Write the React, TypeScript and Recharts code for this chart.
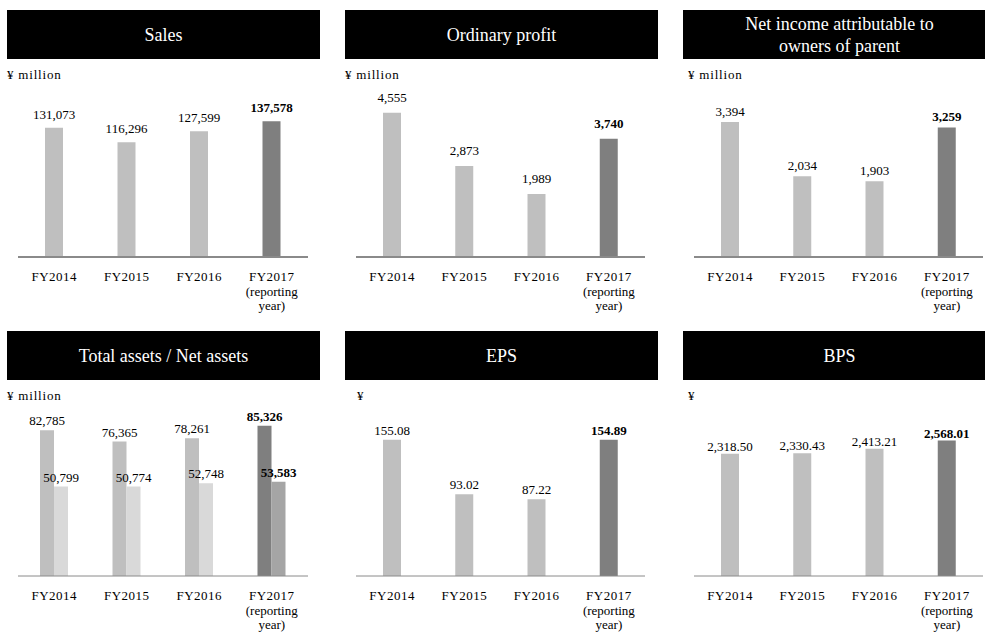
import React from "react";
import { BarChart, Bar, XAxis, YAxis, LabelList, Cell } from "recharts";

// fiscal years and the extra lines under the reporting year
const years = ["FY2014", "FY2015", "FY2016", "FY2017"];
const yearSubLines = [[], [], [], ["(reporting", "year)"]];

// values (labels are printed on the chart)
const sales = [131073, 116296, 127599, 137578];
const ordinaryProfit = [4555, 2873, 1989, 3740];
const netIncome = [3394, 2034, 1903, 3259];
const totalAssets = [82785, 76365, 78261, 85326];
const netAssets = [50799, 50774, 52748, 53583];
const eps = [155.08, 93.02, 87.22, 154.89];
const bps = [2318.5, 2330.43, 2413.21, 2568.01];

const FONT = '"Liberation Serif", "Times New Roman", serif';
const LIGHT = "#bfbfbf";
const DARK = "#7f7f7f";
const NET_LIGHT = "#d9d9d9";
const NET_DARK = "#a5a5a5";

const PLOT_H = 157;
const AXIS_H = 60;
const TOP_PAD = 30;

const fmt = (v: number, digits: number) =>
  v.toLocaleString("en-US", { minimumFractionDigits: digits, maximumFractionDigits: digits });

const makeLabel = (values: number[], digits: number, offset: number) => (props: any) => {
  const vb = props.viewBox || props;
  const x = Number(vb.x) + Number(vb.width) / 2;
  const y = Number(vb.y) - offset;
  const idx = props.index ?? values.indexOf(props.value);
  const bold = idx === values.length - 1;
  return (
    <text x={x} y={y} textAnchor="middle" fontFamily={FONT} fontSize={13}
      fontWeight={bold ? 700 : 400} fill="#000">
      {fmt(Number(props.value), digits)}
    </text>
  );
};

const YearTick = (props: any) => {
  const { x, y, payload } = props;
  const i = years.indexOf(payload.value);
  const lines = [payload.value, ...(yearSubLines[i] || [])];
  return (
    <text x={x} y={y} textAnchor="middle" fontFamily={FONT} fontSize={13} fill="#000">
      {lines.map((l, k) => (
        <tspan key={k} x={x} dy={k === 0 ? 24 : 14.5} letterSpacing={k === 0 ? 0.5 : 0}>{l}</tspan>
      ))}
    </text>
  );
};

type Series = { key: string; values: number[]; light: string; dark: string; digits: number };

function Panel(props: {
  left: number; top: number; title: string[]; unit: string; unitLeft: number;
  plotLeft: number; plotWidth: number; plotTop: number; max: number;
  series: Series[]; barSize: number; labelOffset: number; axisStroke: number;
}) {
  const { left, top, title, unit, unitLeft, plotLeft, plotWidth, plotTop, max, series, barSize, labelOffset, axisStroke } = props;
  const rows = years.map((y, i) => {
    const r: Record<string, any> = { year: y };
    series.forEach((s) => (r[s.key] = s.values[i]));
    return r;
  });
  return (
    <>
      <div style={{
        position: "absolute", left, top, width: 313, height: 49, background: "#000", color: "#fff",
        fontFamily: FONT, fontSize: 18, lineHeight: "22px", display: "flex", flexDirection: "column",
        alignItems: "center", justifyContent: "center", textAlign: "center",
      }}>
        {title.map((t, i) => <div key={i}>{t}</div>)}
      </div>
      <div style={{
        position: "absolute", left: unitLeft, top: top + 57, fontFamily: FONT, fontSize: 13,
        lineHeight: "16px", letterSpacing: 0.8, color: "#000", whiteSpace: "nowrap",
      }}>{unit}</div>
      <div style={{ position: "absolute", left: plotLeft - 20, top: plotTop - TOP_PAD }}>
        <BarChart width={plotWidth + 40} height={TOP_PAD + PLOT_H + AXIS_H} data={rows}
          margin={{ top: TOP_PAD, right: 20, left: 20, bottom: 0 }} barGap={0}>
          <XAxis dataKey="year" height={AXIS_H} tickLine={false} tickSize={0} tickMargin={0}
            axisLine={{ stroke: "#8a8a8a", strokeWidth: axisStroke }} tick={<YearTick />} interval={0} />
          <YAxis hide domain={[0, max]} allowDataOverflow type="number" />
          {series.map((s) => (
            <Bar key={s.key} dataKey={s.key} barSize={barSize} isAnimationActive={false}>
              {rows.map((_, i) => (
                <Cell key={i} fill={i === rows.length - 1 ? s.dark : s.light} />
              ))}
              <LabelList dataKey={s.key} content={makeLabel(s.values, s.digits, labelOffset)} />
            </Bar>
          ))}
        </BarChart>
      </div>
    </>
  );
}

export default function App() {
  const one = (key: string, values: number[], digits = 0): Series[] =>
    [{ key, values, light: LIGHT, dark: DARK, digits }];
  return (
    <div style={{
      position: "absolute", left: 0, top: 0, width: 985, height: 633, overflow: "hidden", background: "#fff",
    }}>
      <Panel left={7} top={10} title={["Sales"]} unit="¥ million" unitLeft={7}
        plotLeft={18} plotWidth={290} plotTop={100} max={159200}
        series={one("sales", sales)} barSize={18} labelOffset={9} axisStroke={2} />
      <Panel left={345} top={10} title={["Ordinary profit"]} unit="¥ million" unitLeft={345}
        plotLeft={356} plotWidth={289} plotTop={100} max={4961}
        series={one("op", ordinaryProfit)} barSize={18} labelOffset={11} axisStroke={2} />
      <Panel left={683} top={10} title={["Net income attributable  to", "owners of parent"]} unit="¥ million" unitLeft={688}
        plotLeft={694} plotWidth={289} plotTop={100} max={3949}
        series={one("ni", netIncome)} barSize={18} labelOffset={6} axisStroke={2} />

      <Panel left={7} top={331} title={["Total assets / Net assets"]} unit="¥ million" unitLeft={7}
        plotLeft={18} plotWidth={290} plotTop={419} max={89180}
        series={[
          { key: "total", values: totalAssets, light: LIGHT, dark: DARK, digits: 0 },
          { key: "net", values: netAssets, light: NET_LIGHT, dark: NET_DARK, digits: 0 },
        ]} barSize={14} labelOffset={5} axisStroke={1} />
      <Panel left={345} top={331} title={["EPS"]} unit="¥" unitLeft={357}
        plotLeft={356} plotWidth={289} plotTop={419} max={178.6}
        series={one("eps", eps, 2)} barSize={18} labelOffset={5} axisStroke={1} />
      <Panel left={683} top={331} title={["BPS"]} unit="¥" unitLeft={688}
        plotLeft={694} plotWidth={289} plotTop={419} max={2978}
        series={one("bps", bps, 2)} barSize={18} labelOffset={3} axisStroke={1} />
    </div>
  );
}
